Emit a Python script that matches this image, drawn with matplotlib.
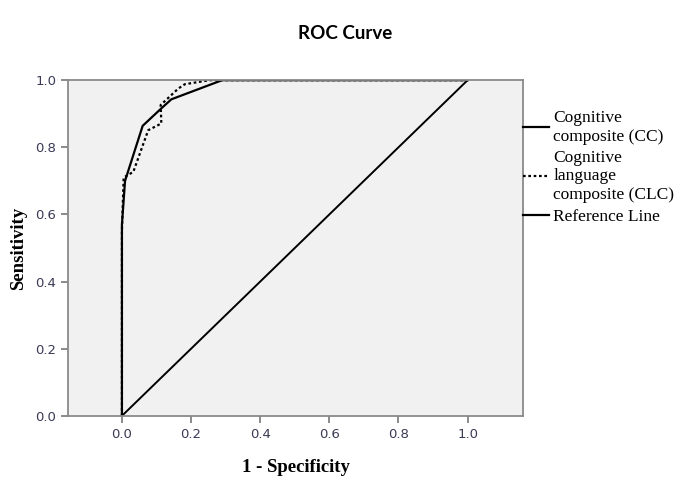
import matplotlib
matplotlib.use("Agg")
import matplotlib.pyplot as plt
from matplotlib.lines import Line2D

# ROC curve points (1 - specificity, sensitivity)
cc_fpr = [0.0, 0.0, 0.0, 0.009, 0.06, 0.114, 0.143, 0.29, 1.0]
cc_tpr = [0.0, 0.46, 0.57, 0.70, 0.864, 0.916, 0.943, 1.0, 1.0]

clc_fpr = [0.0, 0.0, 0.005, 0.033, 0.076, 0.114, 0.112, 0.163, 0.182, 0.254, 1.0]
clc_tpr = [0.0, 0.55, 0.71, 0.727, 0.851, 0.871, 0.926, 0.975, 0.988, 1.0, 1.0]

ref_x = [0.0, 1.0]
ref_y = [0.0, 1.0]

legend_labels = ["Cognitive\ncomposite (CC)",
                 "Cognitive\nlanguage\ncomposite (CLC)",
                 "Reference Line"]
tick_values = [0.0, 0.2, 0.4, 0.6, 0.8, 1.0]
tick_labels = ["0.0", "0.2", "0.4", "0.6", "0.8", "1.0"]

fig = plt.figure(figsize=(6.8, 4.83), dpi=100)
ax = fig.add_axes([0.1, 0.139, 0.669, 0.695])
ax.set_facecolor("#f1f1f1")

ax.plot(cc_fpr, cc_tpr, color="black", lw=1.6, solid_joinstyle="miter")
ax.plot(clc_fpr, clc_tpr, color="black", lw=1.6, linestyle=(0, (1.2, 1.2)))
ax.plot(ref_x, ref_y, color="black", lw=1.4)

ax.set_xlim(-0.156, 1.16)
ax.set_ylim(0, 1.0)
ax.set_xticks(tick_values)
ax.set_xticklabels(tick_labels)
ax.set_yticks(tick_values)
ax.set_yticklabels(tick_labels)
ax.tick_params(colors="#777777", labelcolor="#3a3a55", labelsize=9.5,
               length=5, width=1.2, direction="out")

for sp in ax.spines.values():
    sp.set_color("#8a8a8a")
    sp.set_linewidth(1.3)

ax.set_xlabel("1 - Specificity", fontfamily="Liberation Serif",
              fontweight="bold", fontsize=13.5, labelpad=13)
ax.set_ylabel("Sensitivity", fontfamily="Liberation Serif",
              fontweight="bold", fontsize=13.5, labelpad=6)

fig.text(0.507, 0.93, "ROC Curve", ha="center", va="center",
         fontfamily="Lato", fontweight="bold", fontsize=13.5)

handles = [Line2D([], [], color="black", lw=1.6),
           Line2D([], [], color="black", lw=1.6, linestyle=(0, (1.2, 1.2))),
           Line2D([], [], color="black", lw=1.6)]
fig.legend(handles, legend_labels, loc="upper left",
           bbox_to_anchor=(0.769, 0.772), frameon=False,
           borderpad=0, borderaxespad=0, handlelength=1.5, handletextpad=0.25,
           labelspacing=0.32,
           prop={"family": "Liberation Serif", "size": 12.5})

fig.savefig("out.png", dpi=100)
